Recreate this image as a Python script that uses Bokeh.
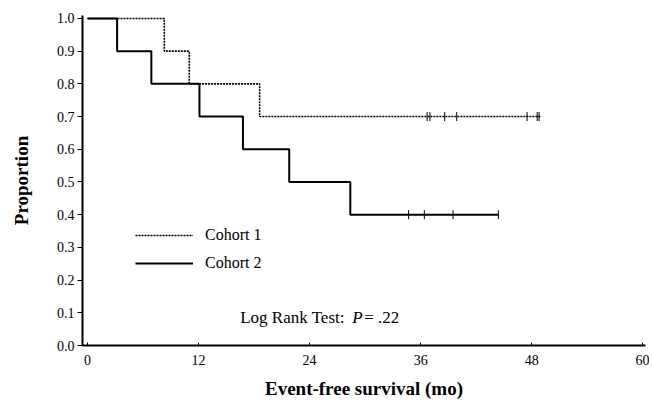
import numpy as np
from bokeh.plotting import figure
from bokeh.models import (Range1d, FixedTicker, NumeralTickFormatter, Legend, LegendItem, Label)
from bokeh.embed import file_html
from bokeh.resources import INLINE

# ---- data ----
c1_time = [0, 8.3, 11.0, 18.6, 49.0]
c1_surv = [1.0, 0.9, 0.8, 0.7, 0.7]
c1_censor = [36.7, 37.0, 38.6, 39.9, 47.5, 48.6, 48.8]

c2_time = [0, 3.2, 6.9, 12.1, 16.8, 21.8, 28.4, 44.4]
c2_surv = [1.0, 0.9, 0.8, 0.7, 0.6, 0.5, 0.4, 0.4]
c2_censor = [34.7, 36.4, 39.5, 44.4]

x_ticks = [0, 12, 24, 36, 48, 60]
y_ticks = [0.0, 0.1, 0.2, 0.3, 0.4, 0.5, 0.6, 0.7, 0.8, 0.9, 1.0]

SERIF = "Liberation Serif"


def level_at(times, surv, t):
    idx = np.searchsorted(np.array(times), np.array(t), side="right") - 1
    return list(np.array(surv)[idx])


p = figure(width=649, height=404, output_backend="svg", toolbar_location=None,
           x_range=Range1d(-0.54, 60.3), y_range=Range1d(0, 1.009),
           min_border_left=82, min_border_right=4, min_border_top=15, min_border_bottom=59)
p.outline_line_color = None
p.xgrid.visible = False
p.ygrid.visible = False
p.background_fill_color = "white"

r1 = p.step(c1_time, c1_surv, mode="after", line_color="black", line_width=1.6, line_dash="2 1")
r2 = p.step(c2_time, c2_surv, mode="after", line_color="black", line_width=2)

p.scatter(c1_censor, level_at(c1_time, c1_surv, c1_censor), marker="dash", angle=np.pi / 2,
          size=9, line_color="black", line_width=1)
p.scatter(c2_censor, level_at(c2_time, c2_surv, c2_censor), marker="dash", angle=np.pi / 2,
          size=9, line_color="black", line_width=1)

# axes
p.xaxis.ticker = FixedTicker(ticks=x_ticks)
p.yaxis.ticker = FixedTicker(ticks=y_ticks)
p.yaxis.formatter = NumeralTickFormatter(format="0.0")
for ax in (p.xaxis[0], p.yaxis[0]):
    ax.axis_line_width = 2
    ax.axis_line_color = "black"
    ax.major_tick_line_color = "black"
    ax.minor_tick_line_color = None
    ax.major_label_text_font = SERIF
    ax.major_label_text_font_size = "14px"
    ax.major_label_text_color = "black"
    ax.axis_label_text_font = SERIF
    ax.axis_label_text_font_style = "bold"
    ax.axis_label_text_font_size = "19px"
    ax.axis_label_text_color = "black"

p.xaxis.major_tick_out = 0
p.xaxis.major_tick_in = 3
p.xaxis.major_label_standoff = 9
p.xaxis.axis_label = "Event-free survival (mo)"
p.xaxis.axis_label_standoff = 10

p.yaxis.major_tick_out = 5
p.yaxis.major_tick_in = 0
p.yaxis.major_label_standoff = 3
p.yaxis.axis_label = "Proportion"
p.yaxis.axis_label_standoff = 22

legend = Legend(items=[LegendItem(label="Cohort 1", renderers=[r1]),
                       LegendItem(label="Cohort 2", renderers=[r2])],
                location=(53, 72), orientation="vertical",
                glyph_width=58, glyph_height=20, spacing=8, padding=0, margin=0,
                label_standoff=12, label_text_font=SERIF, label_text_font_size="16px",
                label_text_color="black", border_line_color=None, background_fill_alpha=0)
p.add_layout(legend, "center")

common = dict(y=0.086, text_font=SERIF, text_font_size="17px", text_color="black",
              text_baseline="middle", text_align="left")
p.add_layout(Label(x=16.5, text="Log Rank Test:", **common))
p.add_layout(Label(x=28.6, text="P", text_font_style="italic", **common))
p.add_layout(Label(x=29.9, text="= .22", **common))

open("out.html", "w").write(file_html(p, INLINE))
